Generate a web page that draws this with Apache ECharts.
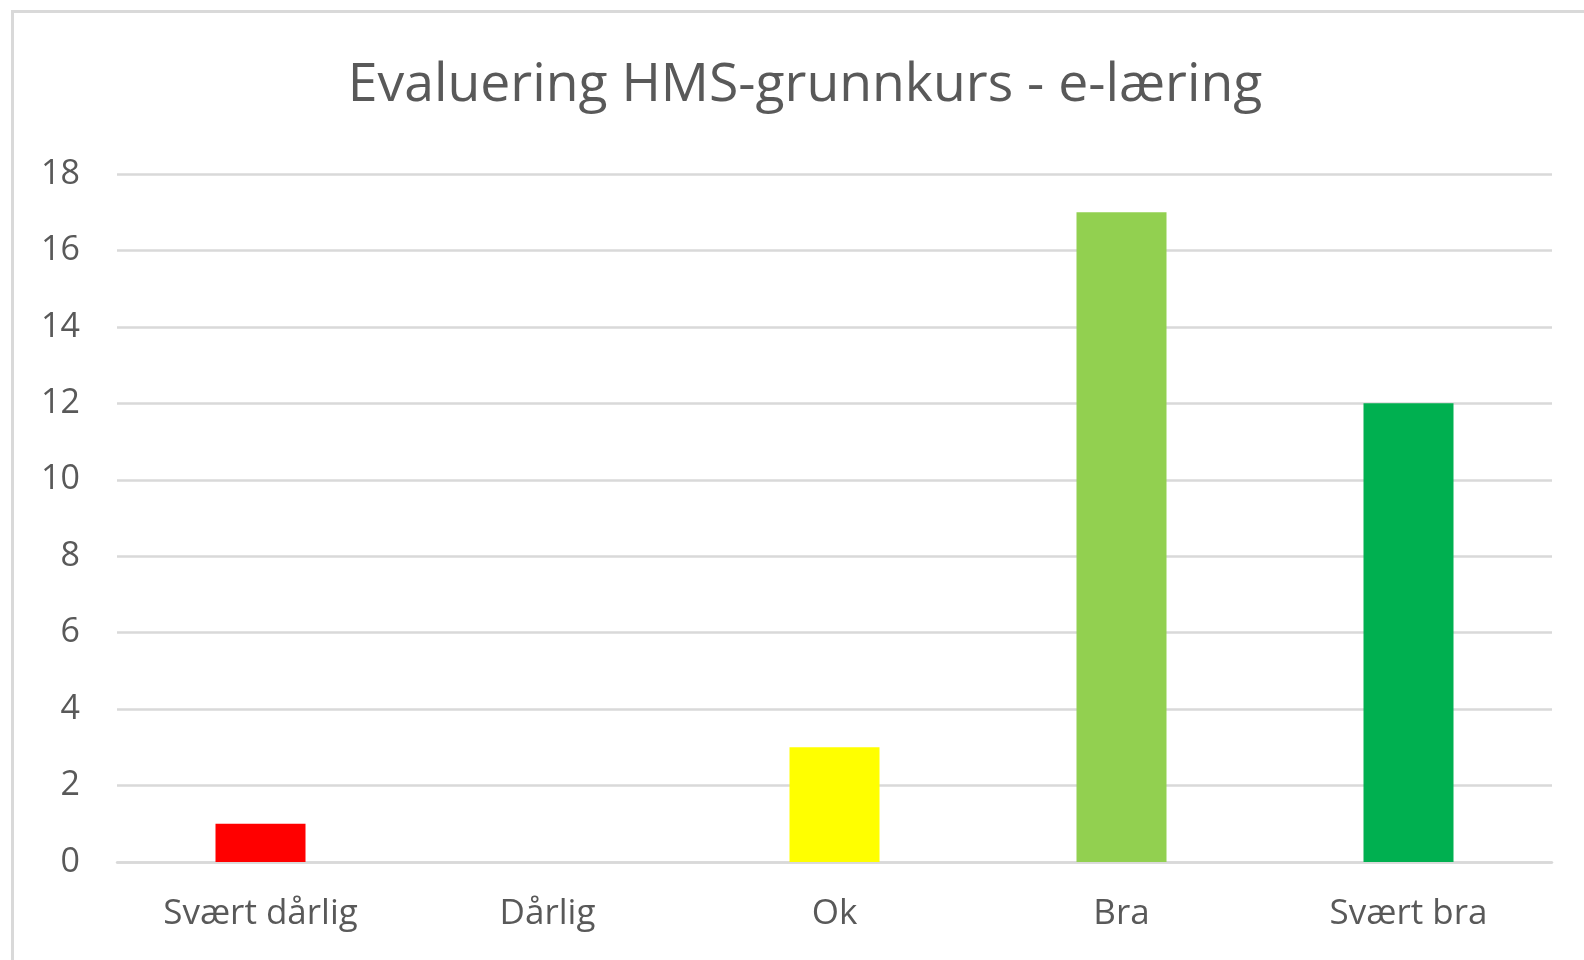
<!DOCTYPE html>
<html>
<head>
<meta charset="utf-8">
<script src="https://cdn.jsdelivr.net/npm/echarts@6/dist/echarts.min.js"></script>
<style>
html,body{margin:0;padding:0;background:#fff;}
#chart{width:1584px;height:960px;}
</style>
</head>
<body>
<div id="chart"></div>
<script>
const categories = ['Svært dårlig', 'Dårlig', 'Ok', 'Bra', 'Svært bra'];
const values = [1, 0, 3, 17, 12];
const yTicks = [0, 2, 4, 6, 8, 10, 12, 14, 16, 18];
const titleText = 'Evaluering HMS-grunnkurs - e-læring';

const barColors = ['#FF0000', '#C00000', '#FFFF00', '#92D050', '#00B050'];
const textColor = '#595959';
const gridColor = '#D9D9D9';
const font = '"Open Sans", sans-serif';

const chart = echarts.init(document.getElementById('chart'), null, {renderer: 'canvas'});
chart.setOption({
  backgroundColor: '#ffffff',
  animation: false,
  title: {
    text: titleText,
    left: 800,
    top: 54,
    textAlign: 'center',
    textStyle: {fontFamily: font, fontSize: 53.5, fontWeight: 'normal', color: textColor}
  },
  graphic: [{
    type: 'rect',
    shape: {x: 12.5, y: 11.5, width: 1620, height: 1000},
    style: {fill: 'none', stroke: gridColor, lineWidth: 3},
    silent: true
  }],
  grid: {left: 117, right: 32, top: 174, bottom: 98, containLabel: false},
  xAxis: {
    type: 'category',
    data: categories,
    axisLine: {show: true, lineStyle: {color: gridColor, width: 2.5}},
    axisTick: {show: false},
    axisLabel: {color: textColor, fontFamily: font, fontSize: 35, margin: 35}
  },
  yAxis: {
    type: 'value',
    min: yTicks[0],
    max: yTicks[yTicks.length - 1],
    interval: yTicks[1] - yTicks[0],
    axisLine: {show: false},
    axisTick: {show: false},
    axisLabel: {color: textColor, fontFamily: font, fontSize: 34, margin: 37},
    splitLine: {lineStyle: {color: gridColor, width: 2.5}}
  },
  series: [{
    type: 'bar',
    data: values,
    barWidth: 90,
    itemStyle: {color: p => barColors[p.dataIndex]}
  }]
});
</script>
</body>
</html>
